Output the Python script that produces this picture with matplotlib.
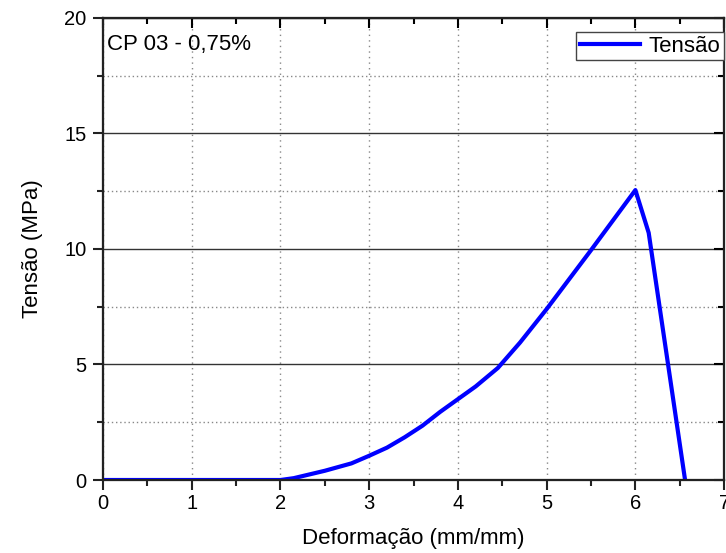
import matplotlib
matplotlib.use("Agg")
import matplotlib.pyplot as plt
from matplotlib.ticker import MultipleLocator

plt.rcParams['font.family'] = ['Liberation Sans', 'DejaVu Sans']

# deformation (mm/mm) and stress (MPa)
deformacao = [0.0, 1.0, 2.0, 2.15, 2.5, 2.8, 3.0, 3.2, 3.4, 3.6, 3.8, 4.0,
              4.2, 4.45, 4.7, 5.0, 5.5, 6.0, 6.15, 6.56]
tensao = [0.0, 0.0, 0.0, 0.08, 0.4, 0.72, 1.05, 1.4, 1.85, 2.35, 2.95, 3.5,
          4.05, 4.85, 5.95, 7.4, 9.95, 12.55, 10.7, 0.0]

fig = plt.figure(figsize=(7.26, 5.53), dpi=100)
ax = fig.add_axes([0.1419, 0.132, 0.8555, 0.8355])

ax.plot(deformacao, tensao, color="#0000ff", lw=3, label="Tensão", zorder=3)

ax.set_xlim(0, 7)
ax.set_ylim(0, 20)
ax.xaxis.set_major_locator(MultipleLocator(1))
ax.xaxis.set_minor_locator(MultipleLocator(0.5))
ax.yaxis.set_major_locator(MultipleLocator(5))
ax.yaxis.set_minor_locator(MultipleLocator(2.5))

# grids: solid major horizontal, dotted minor horizontal, dotted vertical
ax.grid(True, which="major", axis="y", color="#333333", lw=1, ls="-")
ax.grid(True, which="minor", axis="y", color="#888888", lw=1, ls=(0, (1, 2)))
ax.grid(True, which="major", axis="x", color="#888888", lw=1, ls=(0, (1, 3)))

ax.tick_params(which="both", direction="out", top=False, right=False,
               labelsize=14.5, width=1.5, color="#222222")
ax.tick_params(axis="x", pad=3)
ax.tick_params(axis="y", pad=5)
ax.tick_params(which="major", length=7)
ax.tick_params(which="minor", length=4)

# inward ticks on top and right like the original
ax2 = ax.twinx()
ax2.set_ylim(0, 20)
ax2.yaxis.set_major_locator(MultipleLocator(5))
ax2.yaxis.set_minor_locator(MultipleLocator(2.5))
ax2.tick_params(which="both", direction="in", labelright=False, width=1.5)
ax2.tick_params(which="major", length=7)
ax2.tick_params(which="minor", length=4)
ax3 = ax.twiny()
ax3.set_xlim(0, 7)
ax3.xaxis.set_major_locator(MultipleLocator(1))
ax3.xaxis.set_minor_locator(MultipleLocator(0.5))
ax3.tick_params(which="both", direction="in", labeltop=False, width=1.5)
ax3.tick_params(which="major", length=7)
ax3.tick_params(which="minor", length=4)

for a in (ax, ax2, ax3):
    for s in a.spines.values():
        s.set_linewidth(1.5)
        s.set_color("#222222")

ax.set_xlabel("Deformação (mm/mm)", fontsize=16, labelpad=11)
ax.set_ylabel("Tensão (MPa)", fontsize=16, labelpad=15)

ax.text(0.006, 0.943, "CP 03 - 0,75%", transform=ax.transAxes,
        fontsize=16, va="center", ha="left")

leg = ax3.legend(*ax.get_legend_handles_labels(), loc="upper right",
                 bbox_to_anchor=(0.9995, 0.969), fontsize=16, fancybox=False,
                 edgecolor="#444444", framealpha=1, handlelength=2.7,
                 borderpad=0.15, handletextpad=0.4, borderaxespad=0)
leg.get_frame().set_linewidth(1)

fig.savefig("out.png", dpi=100)
